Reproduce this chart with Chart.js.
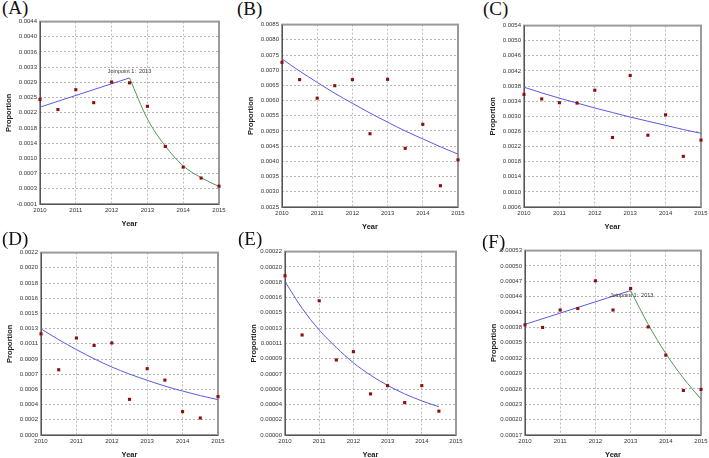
<!DOCTYPE html>
<html><head><meta charset="utf-8">
<script src="https://cdn.jsdelivr.net/npm/chart.js@4"></script>
<style>
body{margin:0;width:709px;height:458px;overflow:hidden;background:#fff;position:relative;}
.lab{position:absolute;font-family:"Liberation Serif","Times New Roman",serif;font-size:19px;color:#111;line-height:22px;}
canvas{position:absolute;}
</style></head><body>
<script>
// ---------- data ----------
const years  = [2010, 2010.5, 2011, 2011.5, 2012, 2012.5, 2013, 2013.5, 2014, 2014.5, 2015];
const yearsE = [2010, 2010.5, 2011, 2011.5, 2012, 2012.5, 2013, 2013.5, 2014, 2014.5];
const xTickLabels = ['2010', '2011', '2012', '2013', '2014', '2015'];

const obsA = [0.00248, 0.00223, 0.00272, 0.00240, 0.00291, 0.00289, 0.00231, 0.00132, 0.00081, 0.00054, 0.00034];
const fitA1X = [2010, 2012.5];
const fitA1 = [0.00229, 0.00301];
const fitA2X = [2012.5, 2013, 2013.5, 2014, 2014.5, 2015];
const fitA2 = [0.00301, 0.00200, 0.00133, 0.00084, 0.00055, 0.00033];
const ticksA = ['0.0044','0.0040','0.0036','0.0033','0.0029','0.0025','0.0022','0.0018','0.0014','0.0010','0.0007','0.0003','-0.0001'];

const obsB = [0.00726, 0.00669, 0.00608, 0.00649, 0.00669, 0.00491, 0.00670, 0.00443, 0.00522, 0.00320, 0.00405];
const fitB = [0.00737, 0.00697, 0.00660, 0.00624, 0.00591, 0.00559, 0.00529, 0.00500, 0.00474, 0.00448, 0.00424];
const ticksB = ['0.0085','0.0080','0.0075','0.0070','0.0065','0.0060','0.0055','0.0050','0.0045','0.0040','0.0035','0.0030','0.0025'];

const obsC = [0.00358, 0.00346, 0.00336, 0.00335, 0.00369, 0.00244, 0.00408, 0.00250, 0.00304, 0.00194, 0.00237];
const fitC = [0.00377, 0.00362, 0.00348, 0.00335, 0.00322, 0.00310, 0.00298, 0.00287, 0.00276, 0.00265, 0.00255];
const ticksC = ['0.0054','0.0050','0.0046','0.0042','0.0038','0.0034','0.0030','0.0026','0.0022','0.0018','0.0014','0.0010','0.0006'];

const obsD = [0.00122, 0.000787, 0.00117, 0.00108, 0.00111, 0.00043, 0.00080, 0.000662, 0.000282, 0.000205, 0.000463];
const fitD = [0.00128, 0.00115, 0.00103, 0.00092, 0.00082, 0.000735, 0.00066, 0.00059, 0.00053, 0.000475, 0.000426];
const ticksD = ['0.0022','0.0020','0.0018','0.0016','0.0015','0.0013','0.0011','0.0009','0.0007','0.0006','0.0004','0.0002','0.0000'];

const obsE = [0.000191, 0.000120, 0.000161, 0.000090, 0.000100, 0.0000493, 0.0000592, 0.0000389, 0.0000592, 0.0000286];
const fitE = [0.000184, 0.000152, 0.000126, 0.000105, 0.0000866, 0.0000718, 0.0000595, 0.0000493, 0.0000409, 0.0000339];
const ticksE = ['0.00022','0.00020','0.00018','0.00016','0.00015','0.00013','0.00011','0.00009','0.00007','0.00006','0.00004','0.00002','0.00000'];

const obsF = [0.000385, 0.000380, 0.000414, 0.000417, 0.000471, 0.000414, 0.000456, 0.000381, 0.000326, 0.000257, 0.000259];
const fitF1X = [2010, 2013];
const fitF1 = [0.000386, 0.000452];
const fitF2X = [2013, 2013.5, 2014, 2014.5, 2015];
const fitF2 = [0.000452, 0.000386, 0.000329, 0.000281, 0.000240];
const ticksF = ['0.00053','0.00050','0.00047','0.00044','0.00041','0.00038','0.00035','0.00032','0.00029','0.00026','0.00023','0.00020','0.00017'];

const joinText = 'Joinpoint 1:  2013';

// ---------- styling / layout ----------
const BLUE = '#5a5ae0', GREEN = '#4f9a4f', RED = '#8c0f0f';
const pts = (xs, ys) => xs.map((x, i) => ({x: x, y: ys[i]}));

const panels = [
  {label:'(A)', lx:2, ly:-3, plot:[40,21,219,204], obsX:years, obs:obsA,
   fits:[[fitA1X, fitA1, BLUE], [fitA2X, fitA2, GREEN]], ticks:ticksA, join:{x:2012.5, y:0.00301, dx:0, dy:-6}},
  {label:'(B)', lx:237, ly:-2, plot:[282,24,458,207], obsX:years, obs:obsB,
   fits:[[years, fitB, BLUE]], ticks:ticksB},
  {label:'(C)', lx:483, ly:-2, plot:[524,25,701,207], obsX:years, obs:obsC,
   fits:[[years, fitC, BLUE]], ticks:ticksC},
  {label:'(D)', lx:2, ly:228, plot:[41,252,218,435], obsX:years, obs:obsD,
   fits:[[years, fitD, BLUE]], ticks:ticksD},
  {label:'(E)', lx:238, ly:228, plot:[285,251,456,435], obsX:yearsE, obs:obsE,
   fits:[[yearsE, fitE, BLUE]], ticks:ticksE},
  {label:'(F)', lx:482, ly:231, plot:[525,250,701,435], obsX:years, obs:obsF,
   fits:[[fitF1X, fitF1, BLUE], [fitF2X, fitF2, GREEN]], ticks:ticksF, join:{x:2013, y:0.000452, dx:1, dy:5}}
];

const framePlugin = {
  id:'frame',
  beforeDatasetsDraw(chart){
    const a = chart.chartArea, ctx = chart.ctx;
    ctx.save();
    ctx.strokeStyle = '#9a9a9a'; ctx.lineWidth = 2;
    ctx.strokeRect(a.left, a.top, a.right - a.left, a.bottom - a.top);
    ctx.strokeStyle = '#555'; ctx.lineWidth = 1;
    ctx.beginPath();
    ctx.moveTo(a.left + 0.5, a.top); ctx.lineTo(a.left + 0.5, a.bottom + 0.5); ctx.lineTo(a.right, a.bottom + 0.5);
    ctx.stroke();
    ctx.restore();
  },
  afterDatasetsDraw(chart){
    const j = chart.options.plugins.frame && chart.options.plugins.frame.join;
    if (!j) return;
    const ctx = chart.ctx;
    const px = chart.scales.x.getPixelForValue(j.x) + j.dx;
    const py = chart.scales.y.getPixelForValue(j.y) + j.dy;
    ctx.save();
    ctx.font = '5.5px "Liberation Sans", Arial, sans-serif';
    ctx.fillStyle = '#333'; ctx.textAlign = 'center'; ctx.textBaseline = 'middle';
    ctx.fillText(joinText, px, py);
    ctx.restore();
  }
};

const YW = 40, XH = 28, PT = 6, PR = 14;
const tickFont = {family:'"Liberation Sans", Arial, sans-serif', size:6};
const titleFont = {family:'"Liberation Sans", Arial, sans-serif', size:7.5, weight:'bold'};

panels.forEach(p => {
  const lab = document.createElement('div');
  lab.className = 'lab'; lab.textContent = p.label;
  lab.style.left = p.lx + 'px'; lab.style.top = p.ly + 'px';
  document.body.appendChild(lab);

  const [pl, pt, pr, pb] = p.plot;
  const left = pl - YW, top = pt - PT, w = pr - left + PR, h = pb - top + XH;
  const c = document.createElement('canvas');
  c.width = w; c.height = h;
  c.style.left = left + 'px'; c.style.top = top + 'px';
  c.style.width = w + 'px'; c.style.height = h + 'px';
  document.body.appendChild(c);

  const yMax = parseFloat(p.ticks[0]);
  const yMin = parseFloat(p.ticks[p.ticks.length - 1]);
  const n = p.ticks.length - 1;
  const step = (yMax - yMin) / n;
  const ticksBottomFirst = p.ticks.slice().reverse();

  const datasets = [{
    type:'scatter', data: pts(p.obsX, p.obs), showLine:false, clip:false,
    pointStyle:'rect', pointRadius:2.2, pointBackgroundColor:RED, pointBorderWidth:0, pointHoverRadius:2.2
  }];
  p.fits.forEach(f => datasets.push({
    type:'line', data: pts(f[0], f[1]), borderColor:f[2], borderWidth:1, pointRadius:0,
    fill:false, cubicInterpolationMode:'monotone', clip:false
  }));

  new Chart(c, {
    type:'scatter',
    data:{datasets},
    options:{
      responsive:false, animation:false, devicePixelRatio:1,
      layout:{padding:{top:PT, right:PR, left:0, bottom:0}},
      plugins:{legend:{display:false}, tooltip:{enabled:false}, frame:{join:p.join}},
      scales:{
        x:{type:'linear', min:2010, max:2015,
           afterBuildTicks(s){ s.ticks = xTickLabels.map(t => ({value: parseFloat(t)})); },
           afterFit(s){ s.height = XH; },
           ticks:{font:tickFont, color:'#333', padding:3, maxRotation:0, autoSkip:false,
                  callback:(v, i) => xTickLabels[i]},
           grid:{color:'#bdbdbd', drawTicks:false, lineWidth:1},
           border:{display:false, dash:[2,2]},
           title:{display:true, text:'Year', font:titleFont, color:'#222', padding:{top:2, bottom:4}}},
        y:{type:'linear', min:yMin, max:yMax,
           afterBuildTicks(s){ s.ticks = ticksBottomFirst.map((t, i) => ({value: yMin + i * step})); },
           afterFit(s){ s.width = YW; },
           ticks:{font:tickFont, color:'#333', padding:3, autoSkip:false,
                  callback:(v, i) => ticksBottomFirst[i]},
           grid:{color:'#b4b4b4', drawTicks:false, lineWidth:1},
           border:{display:false, dash:[2,2]},
           title:{display:true, text:'Proportion', font:titleFont, color:'#222', padding:{top:4, bottom:2}}}
      }
    },
    plugins:[framePlugin]
  });
});
</script>
</body></html>
